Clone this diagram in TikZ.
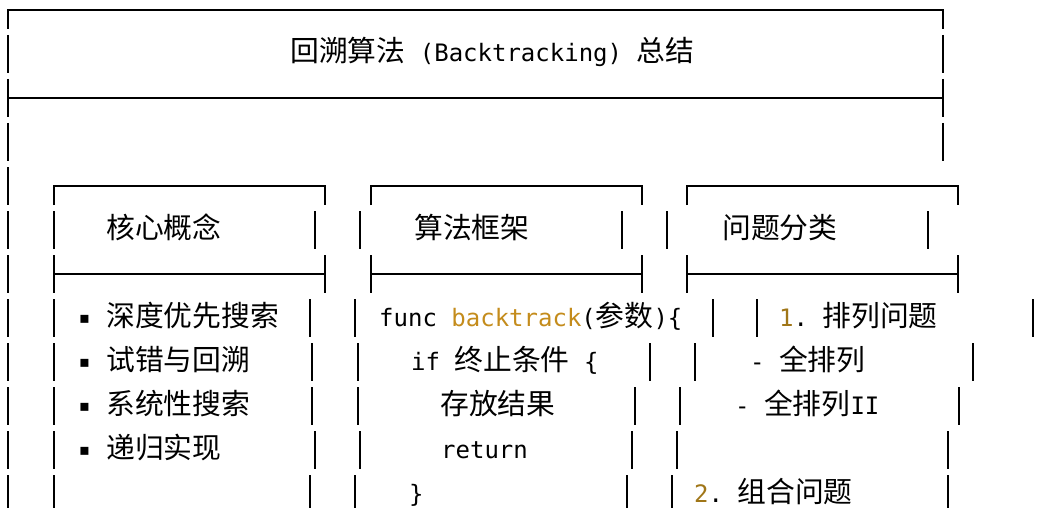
\documentclass[tikz,border=0pt]{standalone}
\usepackage{fontspec}
\usepackage{tikz}
\usepackage{color}
\setmonofont{DejaVu Sans Mono}
\newfontfamily\cjk[Scale=1.2]{Noto Sans CJK SC}
\newfontfamily\symf{DejaVu Sans}
\definecolor{gold}{RGB}{196,140,28}
\definecolor{numgold}{RGB}{160,118,24}

\begin{document}
\begin{tikzpicture}[x=1pt, y=-1pt,
	box line/.style={line width=1.3pt},
	txt/.style={anchor=base west, inner sep=0pt, font=\ttfamily\fontsize{24}{24}\selectfont}]
	\useasboundingbox (0,0) rectangle (1038,508);
	% outer frame
	\draw[box line] (8,29) -- (8,10) -- (943,10) -- (943,29);
	\draw[box line] (8,79) -- (8,117) (943,79) -- (943,117) (8,98) -- (943,98);
	\foreach \y in {54,142}{
	  \draw[box line] (8,\y-19) -- (8,\y+19) (943,\y-19) -- (943,\y+19);
	}
	\foreach \y in {186,230,...,494}{
	  \draw[box line] (8,\y-19) -- (8,\y+19);
	}
	% three inner boxes
	\foreach \l/\r in {54/325, 371/642, 687/958}{
	  \draw[box line] (\l,205) -- (\l,186) -- (\r,186) -- (\r,205);
	  \draw[box line] (\l,255) -- (\l,293) (\r,255) -- (\r,293) (\l,274) -- (\r,274);
	}
	\foreach \x in {54,315,360,622,667,928}{
	  \draw[box line] (\x,211) -- (\x,249);
	}
	\foreach \y/\xs in {318/{54,310,355,713,757,1033}, 362/{54,312,358,650,695,973},
	    406/{54,312,358,635,680,959}, 450/{54,315,360,632,677,948}, 494/{54,310,355,627,672,948}}{
	  \foreach \x in \xs{
	    \draw[box line] (\x,\y-19) -- (\x,\y+19);
	  }
	}
	% texts
	\node[txt] (title) at (290,62) {{\cjk 回溯算法} (Backtracking) {\cjk 总结}};
	\node[txt] (core) at (106,238) {\cjk 核心概念};
	\node[txt] (frame) at (414,238) {\cjk 算法框架};
	\node[txt] (kinds) at (722,238) {\cjk 问题分类};
	\foreach \i/\y/\t in {1/318/深度优先搜索, 2/362/试错与回溯, 3/406/系统性搜索, 4/450/递归实现}{
	  \node[txt, font=\fontsize{16}{16}\selectfont] (dot\i) at (79,\y+5) {\symf ▪};
	  \node[txt] (item\i) at (106,\y+8) {\cjk \t};
	}
	\node[txt] (code1) at (379,326) {func \textcolor{gold}{backtrack}({\cjk 参数})\{};
	\node[txt] (code2) at (411,370) {if {\cjk 终止条件} \{};
	\node[txt] (code3) at (440,414) {\cjk 存放结果};
	\node[txt] (code4) at (441,458) {return};
	\node[txt] (code5) at (409,502) {\}};
	\node[txt] (perm) at (779,326) {\textcolor{numgold}{1}. {\cjk 排列问题}};
	\node[txt] (perm1) at (750,370) {- {\cjk 全排列}};
	\node[txt] (perm2) at (735,414) {- {\cjk 全排列}II};
	\node[txt] (comb) at (694,502) {\textcolor{numgold}{2}. {\cjk 组合问题}};
\end{tikzpicture}
\end{document}
